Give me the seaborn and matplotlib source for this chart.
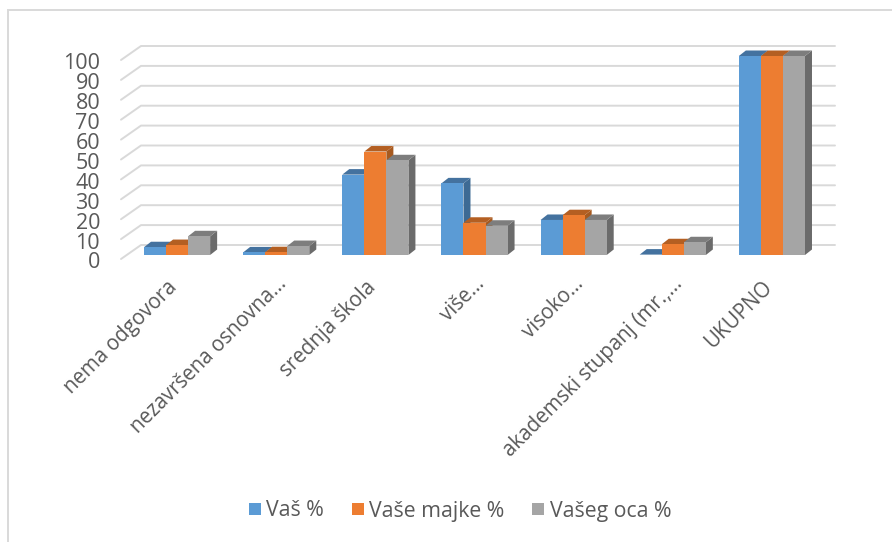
import matplotlib
matplotlib.use("Agg")
import matplotlib.pyplot as plt
import seaborn as sns
import pandas as pd
from matplotlib.lines import Line2D
from matplotlib.patches import Polygon, Rectangle, Patch
from matplotlib.transforms import Affine2D, IdentityTransform

categories = ["nema odgovora", "nezavršena osnovna...", "srednja škola", "više...",
              "visoko...", "akademski stupanj (mr.,...", "UKUPNO"]
vas = [3.9, 1.3, 40.4, 36.0, 17.6, 0.2, 100]
majke = [5.0, 1.4, 52.0, 16.2, 20.0, 5.4, 100]
oca = [9.4, 4.5, 47.6, 14.7, 17.6, 6.4, 100]
series_names = ["Vaš %", "Vaše majke %", "Vašeg oca %"]
front_colors = ["#5b9bd5", "#ed7d31", "#a5a5a5"]
top_colors = ["#44729f", "#b45f22", "#7d7d7d"]
side_colors = ["#3d6a94", "#a65a20", "#6b6b6b"]
yticks = list(range(0, 101, 10))

TEXT = "#595959"
GRID = "#d9d9d9"
W, H = 892, 542
sns.set_theme(style="white")
plt.rcParams["font.family"] = ["Open Sans", "DejaVu Sans"]

df = pd.DataFrame({
    "category": categories * 3,
    "series": sum([[n] * len(categories) for n in series_names], []),
    "value": vas + majke + oca,
})

fig = plt.figure(figsize=(W / 100, H / 100), dpi=100, facecolor="white")
ax = fig.add_axes([121 / W, (H - 259) / H, 694 / W, 199 / H])
sns.barplot(data=df, x="category", y="value", hue="series",
            order=categories, hue_order=series_names, palette=front_colors,
            width=0.667, gap=0, dodge=True, errorbar=None, saturation=1, legend=False, ax=ax)
ax.set_xlim(-0.5, 6.5)
ax.set_ylim(0, 100)
ax.set_yticks(yticks)
ax.set_xlabel("")
ax.set_ylabel("")
ax.grid(False)
ax.patch.set_visible(False)
for s in ax.spines.values():
    s.set_visible(False)
ax.tick_params(axis="y", length=0, pad=15, labelsize=15.5, labelcolor=TEXT)
ax.tick_params(axis="x", length=0, pad=10, labelsize=14.8, labelcolor=TEXT)
for lab in ax.get_xticklabels():
    lab.set_rotation(45)
    lab.set_ha("right")
    lab.set_rotation_mode("anchor")
    # truncated labels reach further along the slant than the full ones
    if lab.get_text().endswith("..."):
        lab.set_transform(lab.get_transform() + Affine2D().translate(6, 0))
    else:
        lab.set_transform(lab.get_transform() + Affine2D().translate(-4, -4))
for lab in ax.get_yticklabels():
    lab.set_transform(lab.get_transform() + Affine2D().translate(0, -1.5))

# Pseudo-3D back wall: grid lines run from the front edge to the back wall
fig.canvas.draw()
ident = IdentityTransform()
back_dx, back_dy = 20, 14
x0, _ = ax.transAxes.transform((0, 0))
x1, _ = ax.transAxes.transform((1, 0))
for t in yticks:
    _, y = ax.transData.transform((0, t))
    ax.add_line(Line2D([x0, x0 + back_dx, x1 + back_dx], [y, y + back_dy, y + back_dy],
                       transform=ident, color=GRID, lw=1.4, clip_on=False, zorder=1))

# Bars sit part-way into the floor; each gets a top and a side face
bar_dx, bar_dy = 6.5, 4
depth_dx, depth_dy = 7, 5.5
shift = Affine2D().translate(bar_dx, bar_dy)
for h, container in enumerate(ax.containers):
    for bar in container:
        bar.set_transform(ax.transData + shift)
        bar.set_clip_on(False)
        bar.set_zorder(5 + 3 * h + 2)
        bar.set_edgecolor("none")
        (xa, ya) = ax.transData.transform((bar.get_x(), 0))
        (xb, yb) = ax.transData.transform((bar.get_x() + bar.get_width(), bar.get_height()))
        xa, xb, ya, yb = xa + bar_dx, xb + bar_dx, ya + bar_dy, yb + bar_dy
        side = Polygon([(xb, ya), (xb + depth_dx, ya + depth_dy),
                        (xb + depth_dx, yb + depth_dy), (xb, yb)],
                       closed=True, transform=ident, facecolor=side_colors[h],
                       edgecolor="none", clip_on=False, zorder=5 + 3 * h)
        top = Polygon([(xa, yb), (xa + depth_dx, yb + depth_dy),
                       (xb + depth_dx, yb + depth_dy), (xb, yb)],
                      closed=True, transform=ident, facecolor=top_colors[h],
                      edgecolor="none", clip_on=False, zorder=5 + 3 * h + 1)
        ax.add_patch(side)
        ax.add_patch(top)

# Chart frame: only top and left edges fall inside the picture
fig.add_artist(Rectangle((8 / W, -0.1), 1.2, (H - 10) / H + 0.1, transform=fig.transFigure,
                         facecolor="none", edgecolor=GRID, lw=1.4, clip_on=False, zorder=0))

handles = [Patch(facecolor=c, edgecolor="none", label=n) for c, n in zip(front_colors, series_names)]
fig.legend(handles=handles, loc="center", bbox_to_anchor=(460 / W, (H - 511) / H), ncol=3,
           frameon=False, handlelength=0.56, handleheight=0.56, handletextpad=0.25,
           columnspacing=1.32, fontsize=15.3, labelcolor=TEXT, borderpad=0)

fig.savefig("out.png", dpi=100, facecolor="white")
